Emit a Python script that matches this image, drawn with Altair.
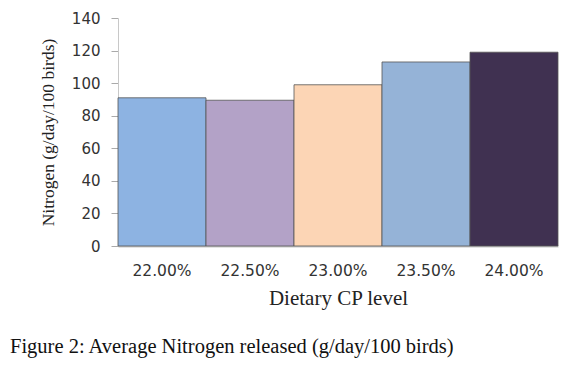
import altair as alt
import pandas as pd

levels = ["22.00%", "22.50%", "23.00%", "23.50%", "24.00%"]
nitrogen = [91, 89.5, 99, 113, 119]
colors = ["#8db3e2", "#b3a2c7", "#fcd5b5", "#95b3d7", "#403151"]

df = pd.DataFrame({"level": levels, "n": nitrogen})

chart = alt.Chart(df).mark_bar(stroke="#555555", strokeWidth=1, strokeOpacity=0.8).encode(
    x=alt.X("level:N", sort=levels,
            scale=alt.Scale(paddingInner=0, paddingOuter=0),
            axis=alt.Axis(title="Dietary CP level", labelAngle=0, tickSize=0,
                          labelPadding=17, labelFont="DejaVu Sans", labelFontSize=15.5,
                          labelColor="#333333", titleFont="Liberation Serif",
                          titleFontSize=21, titleFontWeight="normal", titleColor="#222222",
                          titlePadding=9, domainColor="#c8c8c8", domainWidth=2)),
    y=alt.Y("n:Q", scale=alt.Scale(domain=[0, 140]),
            axis=alt.Axis(title="Nitrogen (g/day/100 birds)", values=list(range(0, 141, 20)),
                          grid=False, tickSize=7, tickColor="#aaaaaa", labelPadding=11,
                          labelFont="DejaVu Sans", labelFontSize=15, labelColor="#333333",
                          titleFont="Liberation Serif", titleFontSize=17.5,
                          titleFontWeight="normal", titleColor="#222222", titlePadding=14,
                          domainColor="#c8c8c8")),
    color=alt.Color("level:N", sort=levels, scale=alt.Scale(domain=levels, range=colors),
                    legend=None),
).properties(
    width=440, height=228,
    title=alt.TitleParams("Figure 2: Average Nitrogen released (g/day/100 birds)",
                          orient="bottom", anchor="start", frame="group",
                          font="Liberation Serif", fontSize=20.5, fontWeight="normal",
                          color="#111111", dx=-108, offset=28),
    autosize=alt.AutoSizeParams(type="none"),
    padding={"left": 110, "top": 10, "right": 6, "bottom": 112},
).configure_view(stroke=None)

chart.save("out.html", embed_options={"renderer": "svg", "actions": False})
